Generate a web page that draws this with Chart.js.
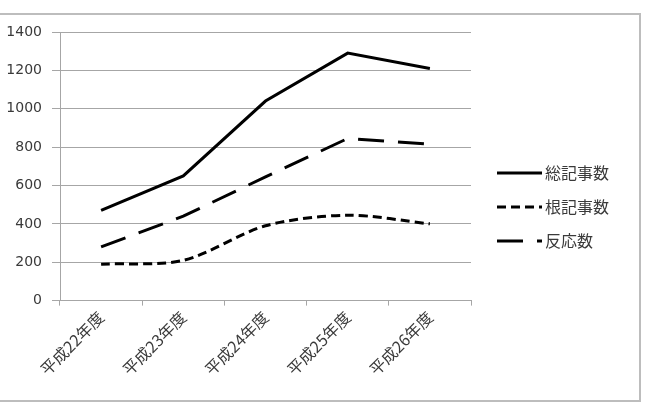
<!DOCTYPE html>
<html>
<head>
<meta charset="utf-8">
<script src="https://cdn.jsdelivr.net/npm/chart.js@4/dist/chart.umd.min.js"></script>
<style>
  body { margin: 0; background: #fff; }
  canvas { display: block; }
</style>
</head>
<body>
<canvas id="chart" width="645" height="403"></canvas>
<script>
// categories and series
const categories = ['平成22年度', '平成23年度', '平成24年度', '平成25年度', '平成26年度']
const totalArticles = [470, 650, 1040, 1290, 1210]
const rootArticles = [190, 210, 390, 445, 400]
const reactions = [280, 440, 645, 845, 815]
const yTicks = [0, 200, 400, 600, 800, 1000, 1200, 1400]

const textColor = '#3a3a3a'
const gridColor = '#a6a6a6'

// excel-like frame round the chart
const framePlugin = {
  id: 'frame',
  beforeDraw(chart) {
    let ctx = chart.ctx
    ctx.save()
    ctx.fillStyle = '#fff'
    ctx.fillRect(0, 0, chart.width, chart.height)
    ctx.strokeStyle = '#bdbdbd'
    ctx.lineWidth = 2
    ctx.beginPath()
    ctx.moveTo(0, 14)
    ctx.lineTo(640, 14)
    ctx.lineTo(640, 401)
    ctx.lineTo(0, 401)
    ctx.stroke()
    ctx.restore()
  },
}

// legend drawn by hand so it sits where the original one does
const sideLegend = {
  id: 'sideLegend',
  afterDraw(chart) {
    let ctx = chart.ctx
    ctx.save()
    chart.data.datasets.forEach((ds, i) => {
      let y = 173 + i * 34
      ctx.strokeStyle = ds.borderColor
      ctx.lineWidth = ds.borderWidth
      ctx.setLineDash(ds.borderDash || [])
      ctx.beginPath()
      ctx.moveTo(497, y)
      ctx.lineTo(542, y)
      ctx.stroke()
      ctx.setLineDash([])
      ctx.fillStyle = textColor
      ctx.font = '16px "Noto Sans CJK JP"'
      ctx.textBaseline = 'middle'
      ctx.fillText(ds.label, 545, y)
    })
    ctx.restore()
  },
}

new Chart(document.getElementById('chart'), {
  type: 'line',
  data: {
    labels: categories,
    datasets: [
      {
        label: '総記事数',
        data: totalArticles,
        borderColor: '#000',
        borderWidth: 3,
        pointRadius: 0,
        tension: 0,
      },
      {
        label: '根記事数',
        data: rootArticles,
        borderColor: '#000',
        borderWidth: 3,
        borderDash: [9, 5],
        pointRadius: 0,
        tension: 0.3,
      },
      {
        label: '反応数',
        data: reactions,
        borderColor: '#000',
        borderWidth: 3,
        borderDash: [26, 14],
        pointRadius: 0,
        tension: 0,
      },
    ],
  },
  options: {
    responsive: false,
    animation: false,
    layout: {
      padding: {left: 6, top: 32, right: 174, bottom: 22},
    },
    plugins: {
      legend: {display: false},
      tooltip: {enabled: false},
    },
    scales: {
      x: {
        offset: true,
        // rotated first label may hang past the y axis, as in the original
        afterFit(scale) {
          scale.paddingLeft = 0
          scale.paddingRight = 0
        },
        grid: {
          display: true,
          drawOnChartArea: false,
          drawTicks: true,
          tickLength: 5,
          color: gridColor,
          offset: true,
        },
        border: {color: gridColor, width: 1},
        ticks: {
          color: textColor,
          font: {family: '"Noto Sans CJK JP"', size: 16},
          maxRotation: 45,
          minRotation: 45,
          padding: 2,
        },
      },
      y: {
        min: 0,
        max: 1400,
        afterBuildTicks(axis) {
          axis.ticks = yTicks.map((v) => ({value: v}))
        },
        afterFit(scale) {
          scale.width = 54
        },
        grid: {
          color: gridColor,
          tickLength: 8,
        },
        border: {color: gridColor, width: 1},
        ticks: {
          color: textColor,
          font: {family: '"DejaVu Sans"', size: 14},
          padding: 10,
          callback: (v) => String(v),
        },
      },
    },
  },
  plugins: [framePlugin, sideLegend],
})
</script>
</body>
</html>
